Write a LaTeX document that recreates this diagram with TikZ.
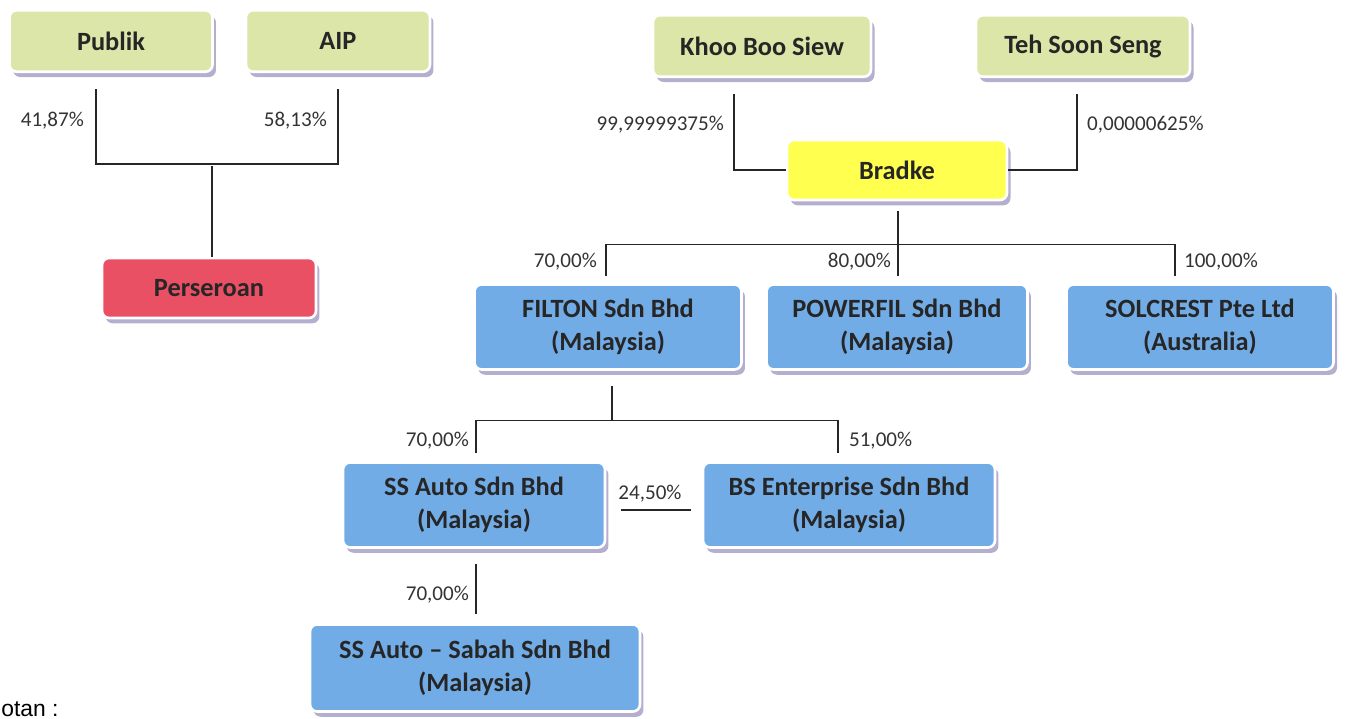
\documentclass[tikz,border=0pt]{standalone}
\usepackage{fontspec}
\setmainfont{Carlito}
\newfontfamily\notefont{Liberation Sans}
\usetikzlibrary{calc,shadows}
\definecolor{ownergreen}{RGB}{219,230,168}
\definecolor{holdyellow}{RGB}{255,255,80}
\definecolor{issuerred}{RGB}{234,80,100}
\definecolor{subblue}{RGB}{114,172,230}
\definecolor{rimshade}{RGB}{150,140,185}
\tikzset{
  entity/.style={rounded corners=4pt, draw=white, line width=1.5pt, align=center,
    text=black!85, font=\bfseries\fontsize{15}{18.7}\selectfont, inner sep=2pt,
    drop shadow={shadow xshift=2pt, shadow yshift=-3pt, fill=rimshade, opacity=.7}},
  owner/.style={entity, fill=ownergreen, minimum height=1.23cm},
  firm/.style={entity, fill=subblue, minimum height=1.7cm},
  pct/.style={font=\fontsize{12}{14}\selectfont, text=black!80, inner sep=1pt},
  link/.style={black!85, line width=0.7pt},
}
\begin{document}
\begin{tikzpicture}[x=0.02cm, y=-0.02cm]
\useasboundingbox (0,0) rectangle (1346,719);
% the company and its holders
\node[owner, minimum width=4.06cm] (pub) at (111,41) {Publik};
\node[owner, minimum width=3.68cm] (aip) at (338,41) {AIP};
\node[entity, fill=issuerred, minimum width=4.28cm, minimum height=1.2cm] (pers) at (209,288) {Perseroan};
\draw[link] ($(pub.south)+(-15,16)$) |- ($(aip.south)+(0,91)$) -- ($(aip.south)+(0,16)$);
\draw[link] ($(pers.north)+(3,0)$) -- ++(0,-91);
\node[pct, anchor=east] (pubpct) at (86,121) {41,87\%};
\node[pct, anchor=east] (aippct) at (329,121) {58,13\%};
% Bradke and its holders
\node[owner, minimum width=4.36cm] (khoo) at (762,46) {Khoo Boo Siew};
\node[owner, minimum width=4.28cm] (teh) at (1083,46) {Teh Soon Seng};
\node[entity, fill=holdyellow, minimum width=4.4cm, minimum height=1.2cm] (brad) at (897,170) {Bradke};
\draw[link] ($(khoo.south)+(-28,16)$) |- (brad.west);
\draw[link] ($(teh.south)+(-6,16)$) |- (brad.east);
\node[pct, anchor=east] (khoopct) at (726,125) {99,99999375\%};
\node[pct, anchor=west] (tehpct) at (1085,125) {0,00000625\%};
% first tier
\node[firm, minimum width=5.34cm] (filton) at (608,327) {FILTON Sdn Bhd\\(Malaysia)};
\node[firm, minimum width=5.22cm] (power) at (897,327) {POWERFIL Sdn Bhd\\(Malaysia)};
\node[firm, minimum width=5.34cm] (solc) at (1200,327) {SOLCREST Pte Ltd\\(Australia)};
\coordinate (bradjoin) at ($(brad.south)+(1,43)$);
\draw[link] ($(brad.south)+(1,10)$) -- (bradjoin);
\draw[link] ($(filton.north)+(-2,-7)$) |- (bradjoin) -| ($(solc.north)+(-25,-7)$);
\draw[link] (bradjoin) -- ($(power.north)+(1,-7)$);
\node[pct, anchor=east] (filpct) at (599,262) {70,00\%};
\node[pct, anchor=east] (powpct) at (893,262) {80,00\%};
\node[pct, anchor=west] (solpct) at (1182,262) {100,00\%};
% second tier
\node[firm, minimum width=5.24cm] (ssauto) at (474,505) {SS Auto Sdn Bhd\\(Malaysia)};
\node[firm, minimum width=5.84cm] (bsent) at (849,505) {BS Enterprise Sdn Bhd\\(Malaysia)};
\node[firm, minimum width=6.6cm, minimum height=1.74cm] (sabah) at (475,668) {SS Auto -- Sabah Sdn Bhd\\(Malaysia)};
\coordinate (filjoin) at ($(filton.south)+(4,50)$);
\draw[link] ($(filton.south)+(4,15)$) -- (filjoin);
\draw[link] ($(ssauto.north)+(2,-8)$) |- (filjoin) -| ($(bsent.north)+(-11,-8)$);
\draw[link] ($(ssauto.east)+(15,5)$) -- ($(bsent.west)+(-11,5)$);
\draw[link] ($(ssauto.south)+(2,15)$) -- ($(sabah.north)+(1,-9)$);
\node[pct, anchor=east] (sspct) at (471,441) {70,00\%};
\node[pct, anchor=west] (bspct) at (847,441) {51,00\%};
\node[pct] (crosspct) at (650,494) {24,50\%};
\node[pct, anchor=east] (sabpct) at (471,595) {70,00\%};
\node[anchor=south west, inner sep=0pt, font=\notefont\fontsize{13}{15}\selectfont] (note) at (1,717) {otan :};
\end{tikzpicture}
\end{document}
